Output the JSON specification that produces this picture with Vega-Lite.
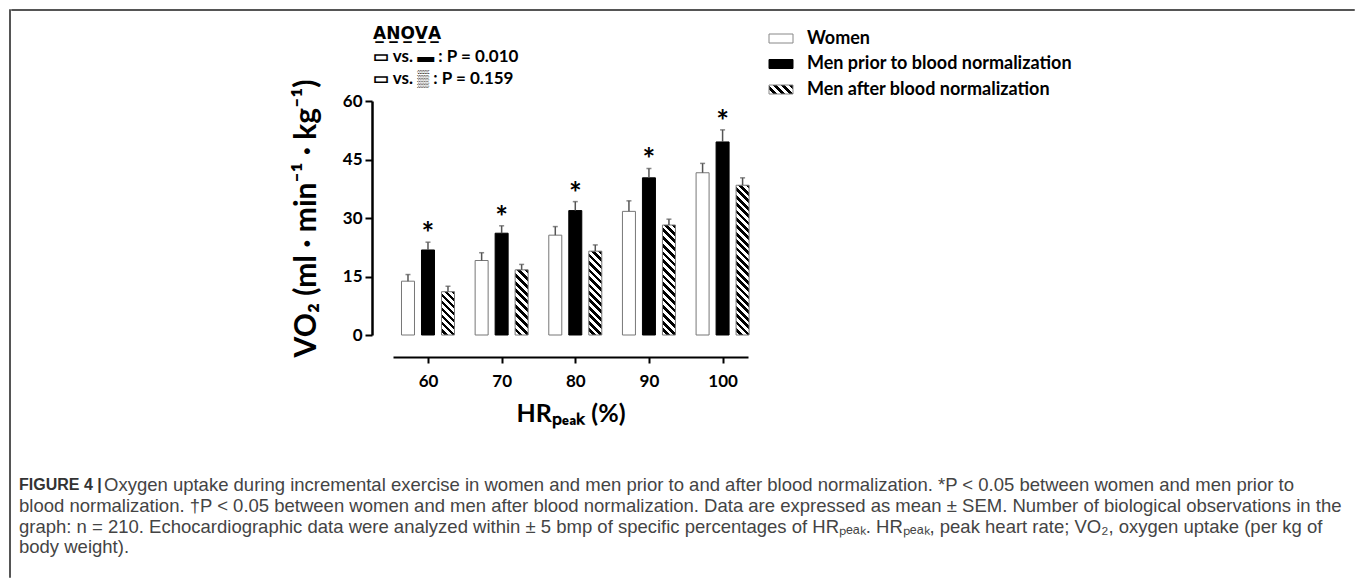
{
  "$schema": "https://vega.github.io/schema/vega-lite/v6.json",
  "padding": {"left": 8, "top": 8, "right": 0, "bottom": 0},
  "background": "white",
  "datasets": {
    "bars": [
      {"hr": 60, "group": "Women", "value": 13.8, "err": 15.5, "sig": ""},
      {"hr": 60, "group": "Men prior to blood normalization", "value": 21.8, "err": 23.8, "sig": "*"},
      {"hr": 60, "group": "Men after blood normalization", "value": 11.1, "err": 12.5, "sig": ""},
      {"hr": 70, "group": "Women", "value": 19.1, "err": 21.1, "sig": ""},
      {"hr": 70, "group": "Men prior to blood normalization", "value": 26.1, "err": 28.0, "sig": "*"},
      {"hr": 70, "group": "Men after blood normalization", "value": 16.7, "err": 18.1, "sig": ""},
      {"hr": 80, "group": "Women", "value": 25.6, "err": 27.8, "sig": ""},
      {"hr": 80, "group": "Men prior to blood normalization", "value": 31.9, "err": 34.2, "sig": "*"},
      {"hr": 80, "group": "Men after blood normalization", "value": 21.5, "err": 23.1, "sig": ""},
      {"hr": 90, "group": "Women", "value": 31.7, "err": 34.4, "sig": ""},
      {"hr": 90, "group": "Men prior to blood normalization", "value": 40.3, "err": 42.7, "sig": "*"},
      {"hr": 90, "group": "Men after blood normalization", "value": 28.2, "err": 29.7, "sig": ""},
      {"hr": 100, "group": "Women", "value": 41.6, "err": 44.0, "sig": ""},
      {"hr": 100, "group": "Men prior to blood normalization", "value": 49.5, "err": 52.6, "sig": "*"},
      {"hr": 100, "group": "Men after blood normalization", "value": 38.4, "err": 40.3, "sig": ""}
    ],
    "legend": [
      {"label": "Women"},
      {"label": "Men prior to blood normalization"},
      {"label": "Men after blood normalization"}
    ],
    "caption": [
      {"line": 1, "text": "Oxygen uptake during incremental exercise in women and men prior to and after blood normalization. *P < 0.05 between women and men prior to"},
      {"line": 2, "text": "blood normalization. \u2020P < 0.05 between women and men after blood normalization. Data are expressed as mean \u00b1 SEM. Number of biological observations in the"},
      {"line": 3, "text": "graph: n = 210. Echocardiographic data were analyzed within \u00b1 5 bmp of specific percentages of HR\u209a\u2091\u2090\u2096. HR\u209a\u2091\u2090\u2096, peak heart rate; VO\u2082, oxygen uptake (per kg of"},
      {"line": 4, "text": "body weight)."}
    ]
  },
  "spacing": -2,
  "hconcat": [
    {
      "width": 1,
      "height": 568,
      "data": {"values": []},
      "mark": "point",
      "encoding": {},
      "view": {"stroke": "#555", "strokeWidth": 1}
    },
    {
      "spacing": 14,
      "vconcat": [
        {
          "width": 1343,
          "height": 1,
          "data": {"values": []},
          "mark": "point",
          "encoding": {},
          "view": {"stroke": "#555", "strokeWidth": 1}
        },
        {
          "spacing": 17,
          "hconcat": [
            {
              "width": 263,
              "height": 1,
              "data": {"values": []},
              "mark": "point",
              "encoding": {}
            },
            {
              "width": 355,
              "height": 234,
              "title": {
                "text": "A\u0332N\u0332O\u0332V\u0332A\u0332",
                "subtitle": ["\u25ad vs. \u25ac : P = 0.010", "\u25ad vs. \u2592 : P = 0.159"],
                "anchor": "start",
                "frame": "group",
                "dx": -20,
                "offset": -9,
                "font": "DejaVu Sans",
                "fontSize": 17,
                "fontWeight": "bold",
                "color": "#000",
                "subtitleFont": "Lato",
                "subtitleFontSize": 17,
                "subtitleFontWeight": "bold",
                "subtitleColor": "#000",
                "subtitlePadding": 6,
                "subtitleLineHeight": 22
              },
              "data": {"name": "bars"},
              "encoding": {
                "x": {
                  "field": "hr",
                  "type": "quantitative",
                  "scale": {"domain": [55.25, 103.45], "nice": false, "zero": false, "padding": 0},
                  "axis": {
                    "title": "HR\u209a\u2091\u2090\u2096 (%)",
                    "values": [60, 70, 80, 90, 100],
                    "format": "d",
                    "offset": 22,
                    "domainWidth": 2,
                    "tickWidth": 2,
                    "tickSize": 6,
                    "labelPadding": 10,
                    "labelFontSize": 17,
                    "titleFontSize": 25,
                    "titlePadding": 12
                  }
                }
              },
              "layer": [
                {
                  "transform": [{"filter": "datum.group === 'Women'"}],
                  "layer": [
                    {
                      "mark": {"type": "bar", "width": 13, "xOffset": -20, "fill": "#fff", "stroke": "#777", "strokeWidth": 1},
                      "encoding": {
                        "y": {
                          "field": "value",
                          "type": "quantitative",
                          "scale": {"domain": [0, 60], "nice": false},
                          "axis": {
                            "title": "VO\u2082 (ml \u00b7 min\u207b\u00b9 \u00b7 kg\u207b\u00b9)",
                            "values": [0, 7.5, 15, 22.5, 30, 37.5, 45, 52.5, 60],
                            "labelExpr": "datum.value % 15 === 0 ? datum.label : ''",
                            "tickSize": {"condition": {"test": "datum.value % 15 !== 0", "value": 4}, "value": 7},
                            "offset": 21,
                            "domainWidth": 2.5,
                            "tickWidth": 2,
                            "labelPadding": 3,
                            "labelFontSize": 17,
                            "titleFontSize": 30,
                            "titlePadding": 21
                          }
                        }
                      }
                    },
                    {
                      "mark": {"type": "rule", "xOffset": -20, "color": "#555", "strokeWidth": 1.5},
                      "encoding": {"y": {"field": "value", "type": "quantitative"}, "y2": {"field": "err"}}
                    },
                    {
                      "mark": {"type": "tick", "orient": "horizontal", "xOffset": -20, "size": 5, "thickness": 1.5, "color": "#555"},
                      "encoding": {"y": {"field": "err", "type": "quantitative"}}
                    }
                  ]
                },
                {
                  "transform": [{"filter": "datum.group === 'Men prior to blood normalization'"}],
                  "layer": [
                    {
                      "mark": {"type": "bar", "width": 13, "xOffset": 0, "fill": "#000", "stroke": "#000", "strokeWidth": 1},
                      "encoding": {"y": {"field": "value", "type": "quantitative"}}
                    },
                    {
                      "mark": {"type": "rule", "xOffset": 0, "color": "#555", "strokeWidth": 1.5},
                      "encoding": {"y": {"field": "value", "type": "quantitative"}, "y2": {"field": "err"}}
                    },
                    {
                      "mark": {"type": "tick", "orient": "horizontal", "xOffset": 0, "size": 5, "thickness": 1.5, "color": "#555"},
                      "encoding": {"y": {"field": "err", "type": "quantitative"}}
                    },
                    {
                      "mark": {"type": "text", "xOffset": 0, "fontSize": 30, "fontWeight": "bold", "baseline": "alphabetic", "dy": 2, "color": "#000"},
                      "encoding": {"y": {"field": "err", "type": "quantitative"}, "text": {"field": "sig"}}
                    }
                  ]
                },
                {
                  "transform": [{"filter": "datum.group === 'Men after blood normalization'"}],
                  "layer": [
                    {
                      "mark": {"type": "bar", "width": 13, "xOffset": 20, "stroke": "#777", "strokeWidth": 1},
                      "encoding": {
                        "y": {"field": "value", "type": "quantitative"},
                        "fill": {
                          "condition": [
                            {"test": "datum.hr === 60", "value": {"gradient": "linear", "x1": 1, "y1": 0, "x2": 0.6418, "y2": 1.1928, "stops": [{"offset":0,"color":"#000"},{"offset":0.0625,"color":"#000"},{"offset":0.0625,"color":"#fff"},{"offset":0.125,"color":"#fff"},{"offset":0.125,"color":"#000"},{"offset":0.1875,"color":"#000"},{"offset":0.1875,"color":"#fff"},{"offset":0.25,"color":"#fff"},{"offset":0.25,"color":"#000"},{"offset":0.3125,"color":"#000"},{"offset":0.3125,"color":"#fff"},{"offset":0.375,"color":"#fff"},{"offset":0.375,"color":"#000"},{"offset":0.4375,"color":"#000"},{"offset":0.4375,"color":"#fff"},{"offset":0.5,"color":"#fff"},{"offset":0.5,"color":"#000"},{"offset":0.5625,"color":"#000"},{"offset":0.5625,"color":"#fff"},{"offset":0.625,"color":"#fff"},{"offset":0.625,"color":"#000"},{"offset":0.6875,"color":"#000"},{"offset":0.6875,"color":"#fff"},{"offset":0.75,"color":"#fff"},{"offset":0.75,"color":"#000"},{"offset":0.8125,"color":"#000"},{"offset":0.8125,"color":"#fff"},{"offset":0.875,"color":"#fff"},{"offset":0.875,"color":"#000"},{"offset":0.9375,"color":"#000"},{"offset":0.9375,"color":"#fff"},{"offset":1,"color":"#fff"}]}},
                            {"test": "datum.hr === 70", "value": {"gradient": "linear", "x1": 1, "y1": 0, "x2": 0.7697, "y2": 1.1537, "stops": [{"offset":0,"color":"#000"},{"offset":0.05,"color":"#000"},{"offset":0.05,"color":"#fff"},{"offset":0.1,"color":"#fff"},{"offset":0.1,"color":"#000"},{"offset":0.15,"color":"#000"},{"offset":0.15,"color":"#fff"},{"offset":0.2,"color":"#fff"},{"offset":0.2,"color":"#000"},{"offset":0.25,"color":"#000"},{"offset":0.25,"color":"#fff"},{"offset":0.3,"color":"#fff"},{"offset":0.3,"color":"#000"},{"offset":0.35,"color":"#000"},{"offset":0.35,"color":"#fff"},{"offset":0.4,"color":"#fff"},{"offset":0.4,"color":"#000"},{"offset":0.45,"color":"#000"},{"offset":0.45,"color":"#fff"},{"offset":0.5,"color":"#fff"},{"offset":0.5,"color":"#000"},{"offset":0.55,"color":"#000"},{"offset":0.55,"color":"#fff"},{"offset":0.6,"color":"#fff"},{"offset":0.6,"color":"#000"},{"offset":0.65,"color":"#000"},{"offset":0.65,"color":"#fff"},{"offset":0.7,"color":"#fff"},{"offset":0.7,"color":"#000"},{"offset":0.75,"color":"#000"},{"offset":0.75,"color":"#fff"},{"offset":0.8,"color":"#fff"},{"offset":0.8,"color":"#000"},{"offset":0.85,"color":"#000"},{"offset":0.85,"color":"#fff"},{"offset":0.9,"color":"#fff"},{"offset":0.9,"color":"#000"},{"offset":0.95,"color":"#000"},{"offset":0.95,"color":"#fff"},{"offset":1,"color":"#fff"}]}},
                            {"test": "datum.hr === 80", "value": {"gradient": "linear", "x1": 1, "y1": 0, "x2": 0.8251, "y2": 1.1279, "stops": [{"offset":0,"color":"#000"},{"offset":0.03846,"color":"#000"},{"offset":0.03846,"color":"#fff"},{"offset":0.07692,"color":"#fff"},{"offset":0.07692,"color":"#000"},{"offset":0.11538,"color":"#000"},{"offset":0.11538,"color":"#fff"},{"offset":0.15385,"color":"#fff"},{"offset":0.15385,"color":"#000"},{"offset":0.19231,"color":"#000"},{"offset":0.19231,"color":"#fff"},{"offset":0.23077,"color":"#fff"},{"offset":0.23077,"color":"#000"},{"offset":0.26923,"color":"#000"},{"offset":0.26923,"color":"#fff"},{"offset":0.30769,"color":"#fff"},{"offset":0.30769,"color":"#000"},{"offset":0.34615,"color":"#000"},{"offset":0.34615,"color":"#fff"},{"offset":0.38462,"color":"#fff"},{"offset":0.38462,"color":"#000"},{"offset":0.42308,"color":"#000"},{"offset":0.42308,"color":"#fff"},{"offset":0.46154,"color":"#fff"},{"offset":0.46154,"color":"#000"},{"offset":0.5,"color":"#000"},{"offset":0.5,"color":"#fff"},{"offset":0.53846,"color":"#fff"},{"offset":0.53846,"color":"#000"},{"offset":0.57692,"color":"#000"},{"offset":0.57692,"color":"#fff"},{"offset":0.61538,"color":"#fff"},{"offset":0.61538,"color":"#000"},{"offset":0.65385,"color":"#000"},{"offset":0.65385,"color":"#fff"},{"offset":0.69231,"color":"#fff"},{"offset":0.69231,"color":"#000"},{"offset":0.73077,"color":"#000"},{"offset":0.73077,"color":"#fff"},{"offset":0.76923,"color":"#fff"},{"offset":0.76923,"color":"#000"},{"offset":0.80769,"color":"#000"},{"offset":0.80769,"color":"#fff"},{"offset":0.84615,"color":"#fff"},{"offset":0.84615,"color":"#000"},{"offset":0.88462,"color":"#000"},{"offset":0.88462,"color":"#fff"},{"offset":0.92308,"color":"#fff"},{"offset":0.92308,"color":"#000"},{"offset":0.96154,"color":"#000"},{"offset":0.96154,"color":"#fff"},{"offset":1,"color":"#fff"}]}},
                            {"test": "datum.hr === 90", "value": {"gradient": "linear", "x1": 1, "y1": 0, "x2": 0.8696, "y2": 1.1028, "stops": [{"offset":0,"color":"#000"},{"offset":0.03125,"color":"#000"},{"offset":0.03125,"color":"#fff"},{"offset":0.0625,"color":"#fff"},{"offset":0.0625,"color":"#000"},{"offset":0.09375,"color":"#000"},{"offset":0.09375,"color":"#fff"},{"offset":0.125,"color":"#fff"},{"offset":0.125,"color":"#000"},{"offset":0.15625,"color":"#000"},{"offset":0.15625,"color":"#fff"},{"offset":0.1875,"color":"#fff"},{"offset":0.1875,"color":"#000"},{"offset":0.21875,"color":"#000"},{"offset":0.21875,"color":"#fff"},{"offset":0.25,"color":"#fff"},{"offset":0.25,"color":"#000"},{"offset":0.28125,"color":"#000"},{"offset":0.28125,"color":"#fff"},{"offset":0.3125,"color":"#fff"},{"offset":0.3125,"color":"#000"},{"offset":0.34375,"color":"#000"},{"offset":0.34375,"color":"#fff"},{"offset":0.375,"color":"#fff"},{"offset":0.375,"color":"#000"},{"offset":0.40625,"color":"#000"},{"offset":0.40625,"color":"#fff"},{"offset":0.4375,"color":"#fff"},{"offset":0.4375,"color":"#000"},{"offset":0.46875,"color":"#000"},{"offset":0.46875,"color":"#fff"},{"offset":0.5,"color":"#fff"},{"offset":0.5,"color":"#000"},{"offset":0.53125,"color":"#000"},{"offset":0.53125,"color":"#fff"},{"offset":0.5625,"color":"#fff"},{"offset":0.5625,"color":"#000"},{"offset":0.59375,"color":"#000"},{"offset":0.59375,"color":"#fff"},{"offset":0.625,"color":"#fff"},{"offset":0.625,"color":"#000"},{"offset":0.65625,"color":"#000"},{"offset":0.65625,"color":"#fff"},{"offset":0.6875,"color":"#fff"},{"offset":0.6875,"color":"#000"},{"offset":0.71875,"color":"#000"},{"offset":0.71875,"color":"#fff"},{"offset":0.75,"color":"#fff"},{"offset":0.75,"color":"#000"},{"offset":0.78125,"color":"#000"},{"offset":0.78125,"color":"#fff"},{"offset":0.8125,"color":"#fff"},{"offset":0.8125,"color":"#000"},{"offset":0.84375,"color":"#000"},{"offset":0.84375,"color":"#fff"},{"offset":0.875,"color":"#fff"},{"offset":0.875,"color":"#000"},{"offset":0.90625,"color":"#000"},{"offset":0.90625,"color":"#fff"},{"offset":0.9375,"color":"#fff"},{"offset":0.9375,"color":"#000"},{"offset":0.96875,"color":"#000"},{"offset":0.96875,"color":"#fff"},{"offset":1,"color":"#fff"}]}},
                            {"test": "datum.hr === 100", "value": {"gradient": "linear", "x1": 1, "y1": 0, "x2": 0.9064, "y2": 1.0787, "stops": [{"offset":0,"color":"#000"},{"offset":0.022727,"color":"#000"},{"offset":0.022727,"color":"#fff"},{"offset":0.045455,"color":"#fff"},{"offset":0.045455,"color":"#000"},{"offset":0.068182,"color":"#000"},{"offset":0.068182,"color":"#fff"},{"offset":0.090909,"color":"#fff"},{"offset":0.090909,"color":"#000"},{"offset":0.113636,"color":"#000"},{"offset":0.113636,"color":"#fff"},{"offset":0.136364,"color":"#fff"},{"offset":0.136364,"color":"#000"},{"offset":0.159091,"color":"#000"},{"offset":0.159091,"color":"#fff"},{"offset":0.181818,"color":"#fff"},{"offset":0.181818,"color":"#000"},{"offset":0.204545,"color":"#000"},{"offset":0.204545,"color":"#fff"},{"offset":0.227273,"color":"#fff"},{"offset":0.227273,"color":"#000"},{"offset":0.25,"color":"#000"},{"offset":0.25,"color":"#fff"},{"offset":0.272727,"color":"#fff"},{"offset":0.272727,"color":"#000"},{"offset":0.295455,"color":"#000"},{"offset":0.295455,"color":"#fff"},{"offset":0.318182,"color":"#fff"},{"offset":0.318182,"color":"#000"},{"offset":0.340909,"color":"#000"},{"offset":0.340909,"color":"#fff"},{"offset":0.363636,"color":"#fff"},{"offset":0.363636,"color":"#000"},{"offset":0.386364,"color":"#000"},{"offset":0.386364,"color":"#fff"},{"offset":0.409091,"color":"#fff"},{"offset":0.409091,"color":"#000"},{"offset":0.431818,"color":"#000"},{"offset":0.431818,"color":"#fff"},{"offset":0.454545,"color":"#fff"},{"offset":0.454545,"color":"#000"},{"offset":0.477273,"color":"#000"},{"offset":0.477273,"color":"#fff"},{"offset":0.5,"color":"#fff"},{"offset":0.5,"color":"#000"},{"offset":0.522727,"color":"#000"},{"offset":0.522727,"color":"#fff"},{"offset":0.545455,"color":"#fff"},{"offset":0.545455,"color":"#000"},{"offset":0.568182,"color":"#000"},{"offset":0.568182,"color":"#fff"},{"offset":0.590909,"color":"#fff"},{"offset":0.590909,"color":"#000"},{"offset":0.613636,"color":"#000"},{"offset":0.613636,"color":"#fff"},{"offset":0.636364,"color":"#fff"},{"offset":0.636364,"color":"#000"},{"offset":0.659091,"color":"#000"},{"offset":0.659091,"color":"#fff"},{"offset":0.681818,"color":"#fff"},{"offset":0.681818,"color":"#000"},{"offset":0.704545,"color":"#000"},{"offset":0.704545,"color":"#fff"},{"offset":0.727273,"color":"#fff"},{"offset":0.727273,"color":"#000"},{"offset":0.75,"color":"#000"},{"offset":0.75,"color":"#fff"},{"offset":0.772727,"color":"#fff"},{"offset":0.772727,"color":"#000"},{"offset":0.795455,"color":"#000"},{"offset":0.795455,"color":"#fff"},{"offset":0.818182,"color":"#fff"},{"offset":0.818182,"color":"#000"},{"offset":0.840909,"color":"#000"},{"offset":0.840909,"color":"#fff"},{"offset":0.863636,"color":"#fff"},{"offset":0.863636,"color":"#000"},{"offset":0.886364,"color":"#000"},{"offset":0.886364,"color":"#fff"},{"offset":0.909091,"color":"#fff"},{"offset":0.909091,"color":"#000"},{"offset":0.931818,"color":"#000"},{"offset":0.931818,"color":"#fff"},{"offset":0.954545,"color":"#fff"},{"offset":0.954545,"color":"#000"},{"offset":0.977273,"color":"#000"},{"offset":0.977273,"color":"#fff"},{"offset":1,"color":"#fff"}]}}
                          ],
                          "value": "#fff"
                        }
                      }
                    },
                    {
                      "mark": {"type": "rule", "xOffset": 20, "color": "#555", "strokeWidth": 1.5},
                      "encoding": {"y": {"field": "value", "type": "quantitative"}, "y2": {"field": "err"}}
                    },
                    {
                      "mark": {"type": "tick", "orient": "horizontal", "xOffset": 20, "size": 5, "thickness": 1.5, "color": "#555"},
                      "encoding": {"y": {"field": "err", "type": "quantitative"}}
                    }
                  ]
                }
              ]
            },
            {
              "width": 330,
              "height": 1,
              "data": {"name": "legend"},
              "encoding": {
                "y": {"field": "label", "type": "nominal", "sort": null, "axis": null, "scale": {"type": "point", "range": [-62.5, -11.5], "padding": 0}}
              },
              "layer": [
                {
                  "mark": {"type": "point", "shape": "M-1,-0.375L1,-0.375L1,0.375L-1,0.375Z", "size": 576, "filled": true, "opacity": 1, "strokeWidth": 1},
                  "encoding": {
                    "x": {"value": 8},
                    "fill": {
                      "condition": [
                        {"test": "datum.label === 'Women'", "value": "#fff"},
                        {"test": "datum.label === 'Men prior to blood normalization'", "value": "#000"}
                      ],
                      "value": {"gradient": "linear", "x1": 1, "y1": 0, "x2": -0.2055, "y2": 0.4521, "stops": [{"offset":0,"color":"#000"},{"offset":0.125,"color":"#000"},{"offset":0.125,"color":"#fff"},{"offset":0.25,"color":"#fff"},{"offset":0.25,"color":"#000"},{"offset":0.375,"color":"#000"},{"offset":0.375,"color":"#fff"},{"offset":0.5,"color":"#fff"},{"offset":0.5,"color":"#000"},{"offset":0.625,"color":"#000"},{"offset":0.625,"color":"#fff"},{"offset":0.75,"color":"#fff"},{"offset":0.75,"color":"#000"},{"offset":0.875,"color":"#000"},{"offset":0.875,"color":"#fff"},{"offset":1,"color":"#fff"}]}
                    },
                    "stroke": {
                      "condition": {"test": "datum.label === 'Men prior to blood normalization'", "value": "#000"},
                      "value": "#888"
                    }
                  }
                },
                {
                  "mark": {"type": "text", "align": "left", "baseline": "middle", "font": "Lato", "fontSize": 18, "fontWeight": "bold", "color": "#000"},
                  "encoding": {"x": {"value": 34}, "text": {"field": "label"}}
                }
              ]
            }
          ]
        },
        {
          "width": 1330,
          "height": 120,
          "data": {"name": "caption"},
          "encoding": {
            "y": {"field": "line", "type": "quantitative", "axis": null, "scale": {"domain": [-1.163, 4.606], "reverse": true, "nice": false, "zero": false}}
          },
          "layer": [
            {
              "transform": [{"filter": "datum.line > 1"}],
              "mark": {"type": "text", "align": "left", "baseline": "middle", "font": "Liberation Sans", "fontSize": 18.5, "color": "#444"},
              "encoding": {"x": {"value": 8}, "text": {"field": "text"}}
            },
            {
              "transform": [{"filter": "datum.line === 1"}],
              "mark": {"type": "text", "align": "left", "baseline": "middle", "font": "Liberation Sans", "fontSize": 18.5, "color": "#444", "dx": 85},
              "encoding": {"x": {"value": 8}, "text": {"field": "text"}}
            },
            {
              "transform": [{"filter": "datum.line === 1"}],
              "mark": {"type": "text", "align": "left", "baseline": "middle", "font": "Liberation Sans", "fontSize": 16, "fontWeight": "bold", "color": "#333", "text": "FIGURE 4 |"},
              "encoding": {"x": {"value": 8}}
            }
          ]
        }
      ]
    }
  ],
  "config": {
    "view": {"stroke": null},
    "font": "Lato",
    "axis": {
      "domainColor": "#000",
      "tickColor": "#000",
      "labelColor": "#000",
      "titleColor": "#000",
      "labelFont": "Lato",
      "titleFont": "Lato",
      "labelFontWeight": "bold",
      "titleFontWeight": "bold",
      "grid": false,
      "labelAngle": 0
    }
  }
}
